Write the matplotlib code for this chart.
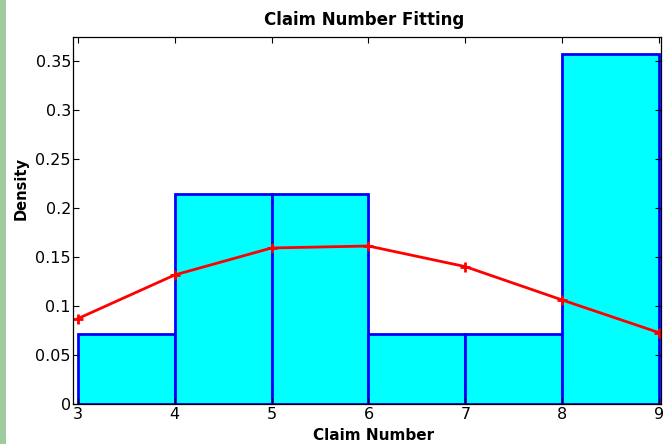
import matplotlib
matplotlib.use("Agg")
import matplotlib.pyplot as plt
from matplotlib.patches import Rectangle

plt.rcParams['font.family'] = ['DejaVu Sans']

bin_edges = [3, 4, 5, 6, 7, 8, 9]
densities = [1/14, 3/14, 3/14, 1/14, 1/14, 5/14]
fit_x = [3, 4, 5, 6, 7, 8, 9]
fit_y = [0.087, 0.1315, 0.159, 0.161, 0.140, 0.106, 0.0727]
yticks = [0, 0.05, 0.1, 0.15, 0.2, 0.25, 0.3, 0.35]
ytick_labels = ['0', '0.05', '0.1', '0.15', '0.2', '0.25', '0.3', '0.35']

fig = plt.figure(figsize=(6.65, 4.44), dpi=100)
fig.patches.append(Rectangle((0, 0), 6/665, 1, transform=fig.transFigure,
                             facecolor='#9dcb9d', edgecolor='none'))
ax = fig.add_axes([73/665, 1 - 404/444, (661-73)/665, (404-37)/444])

widths = [bin_edges[i+1] - bin_edges[i] for i in range(len(densities))]
ax.bar(bin_edges[:-1], densities, width=widths, align='edge',
       color='#00ffff', edgecolor='#0000ff', linewidth=2)
ax.plot(fit_x, fit_y, color='#ff0000', linewidth=2, marker='+',
        markersize=6.5, markeredgewidth=2)

ax.set_xlim(2.95, 9.02)
ax.set_ylim(0, 0.374)
ax.set_xticks(fit_x)
ax.set_yticks(yticks)
ax.set_yticklabels(ytick_labels)
ax.tick_params(direction='in', top=True, right=True, labelsize=11.5, length=4)
ax.tick_params(axis='y', pad=1.5)
ax.tick_params(axis='x', pad=2)
for s in ax.spines.values():
    s.set_linewidth(0.9)

ax.set_title('Claim Number Fitting', fontsize=12, fontweight='bold',
             x=0.495, pad=8.6)
ax.set_xlabel('Claim Number', fontsize=11, fontweight='bold')
ax.xaxis.label.set_va('baseline')
ax.xaxis.set_label_coords(0.512, -(440 - 404) / 367)
ax.set_ylabel('Density', fontsize=10.5, fontweight='bold')
ax.yaxis.set_label_coords((29 - 73) / 588, (404 - 188.5) / 367)

fig.savefig('out.png', dpi=100)
